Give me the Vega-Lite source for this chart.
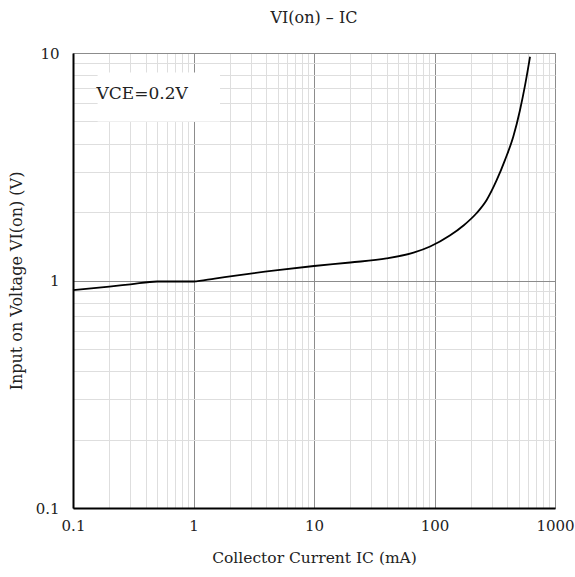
{
  "$schema": "https://vega.github.io/schema/vega-lite/v6.json",
  "width": 482,
  "height": 455,
  "autosize": "none",
  "padding": {"left": 73, "top": 53, "right": 20, "bottom": 69},
  "background": "white",
  "title": {"text": "VI(on) – IC", "font": "DejaVu Serif", "fontSize": 16, "fontWeight": "normal", "color": "#222", "offset": 20},
  "config": {
    "view": {"stroke": "#999999", "strokeWidth": 1},
    "font": "DejaVu Serif"
  },
  "datasets": {
    "curve": [
      {"ic": 0.1, "v": 0.908},
      {"ic": 0.2, "v": 0.94},
      {"ic": 0.3, "v": 0.962},
      {"ic": 0.5, "v": 0.99},
      {"ic": 0.7, "v": 0.99},
      {"ic": 1, "v": 0.99},
      {"ic": 1.5, "v": 1.02},
      {"ic": 2.4, "v": 1.057},
      {"ic": 5, "v": 1.11},
      {"ic": 10, "v": 1.158},
      {"ic": 20, "v": 1.2},
      {"ic": 40, "v": 1.25},
      {"ic": 67, "v": 1.325},
      {"ic": 92, "v": 1.41},
      {"ic": 134, "v": 1.575},
      {"ic": 173, "v": 1.74},
      {"ic": 224, "v": 1.98},
      {"ic": 271, "v": 2.26},
      {"ic": 328, "v": 2.76},
      {"ic": 385, "v": 3.39},
      {"ic": 451, "v": 4.29},
      {"ic": 512, "v": 5.6},
      {"ic": 564, "v": 7.2},
      {"ic": 621, "v": 9.63}
    ],
    "box": [{"x": 0.16, "x2": 1.66, "y": 5.0, "y2": 8.2, "label": "VCE=0.2V", "tx": 0.375, "ty": 6.6}]
  },
  "layer": [
    {
      "data": {"name": "box"},
      "mark": {"type": "rect", "fill": "white"},
      "encoding": {
        "x": {"field": "x", "type": "quantitative", "scale": {"type": "log", "domain": [0.1, 1000]}},
        "x2": {"field": "x2"},
        "y": {"field": "y", "type": "quantitative", "scale": {"type": "log", "domain": [0.1, 10]}},
        "y2": {"field": "y2"}
      }
    },
    {
      "data": {"name": "box"},
      "mark": {"type": "text", "fontSize": 17, "font": "DejaVu Serif", "color": "#222"},
      "encoding": {
        "x": {"field": "tx", "type": "quantitative"},
        "y": {"field": "ty", "type": "quantitative"},
        "text": {"field": "label"}
      }
    },
    {
      "data": {"name": "curve"},
      "mark": {"type": "line", "color": "black", "strokeWidth": 1.8, "interpolate": "monotone"},
      "encoding": {
        "x": {
          "field": "ic", "type": "quantitative",
          "scale": {"type": "log", "domain": [0.1, 1000]},
          "axis": {
            "title": "Collector Current IC (mA)",
            "titleFont": "DejaVu Serif", "titleFontSize": 15.5, "titleFontWeight": "normal", "titleColor": "#222", "titlePadding": 17,
            "labelFont": "DejaVu Serif", "labelFontSize": 15, "labelColor": "#222", "labelPadding": 10,
            "values": [0.1,0.2,0.3,0.4,0.5,0.6,0.7,0.8,0.9,1,2,3,4,5,6,7,8,9,10,20,30,40,50,60,70,80,90,100,200,300,400,500,600,700,800,900,1000],
            "format": "~g",
            "labelExpr": "abs(log(datum.value)/LN10 - round(log(datum.value)/LN10)) < 0.001 ? datum.label : ''",
            "ticks": false,
            "grid": true,
            "gridColor": {"condition": {"test": "abs(log(datum.value)/LN10 - round(log(datum.value)/LN10)) < 0.001", "value": "#8c8c8c"}, "value": "#dedede"},
            "domainColor": "black", "domainWidth": 2,
            "labelFlush": false, "labelOverlap": false
          }
        },
        "y": {
          "field": "v", "type": "quantitative",
          "scale": {"type": "log", "domain": [0.1, 10]},
          "axis": {
            "title": "Input on Voltage VI(on) (V)",
            "titleFont": "DejaVu Serif", "titleFontSize": 16, "titleFontWeight": "normal", "titleColor": "#222", "titlePadding": 11,
            "labelFont": "DejaVu Serif", "labelFontSize": 15, "labelColor": "#222", "labelPadding": 14,
            "values": [0.1,0.2,0.3,0.4,0.5,0.6,0.7,0.8,0.9,1,2,3,4,5,6,7,8,9,10],
            "format": "~g",
            "labelExpr": "abs(log(datum.value)/LN10 - round(log(datum.value)/LN10)) < 0.001 ? datum.label : ''",
            "ticks": false,
            "grid": true,
            "gridColor": {"condition": {"test": "abs(log(datum.value)/LN10 - round(log(datum.value)/LN10)) < 0.001", "value": "#8c8c8c"}, "value": "#dedede"},
            "domainColor": "black", "domainWidth": 2,
            "labelFlush": false, "labelOverlap": false
          }
        }
      }
    }
  ]
}
